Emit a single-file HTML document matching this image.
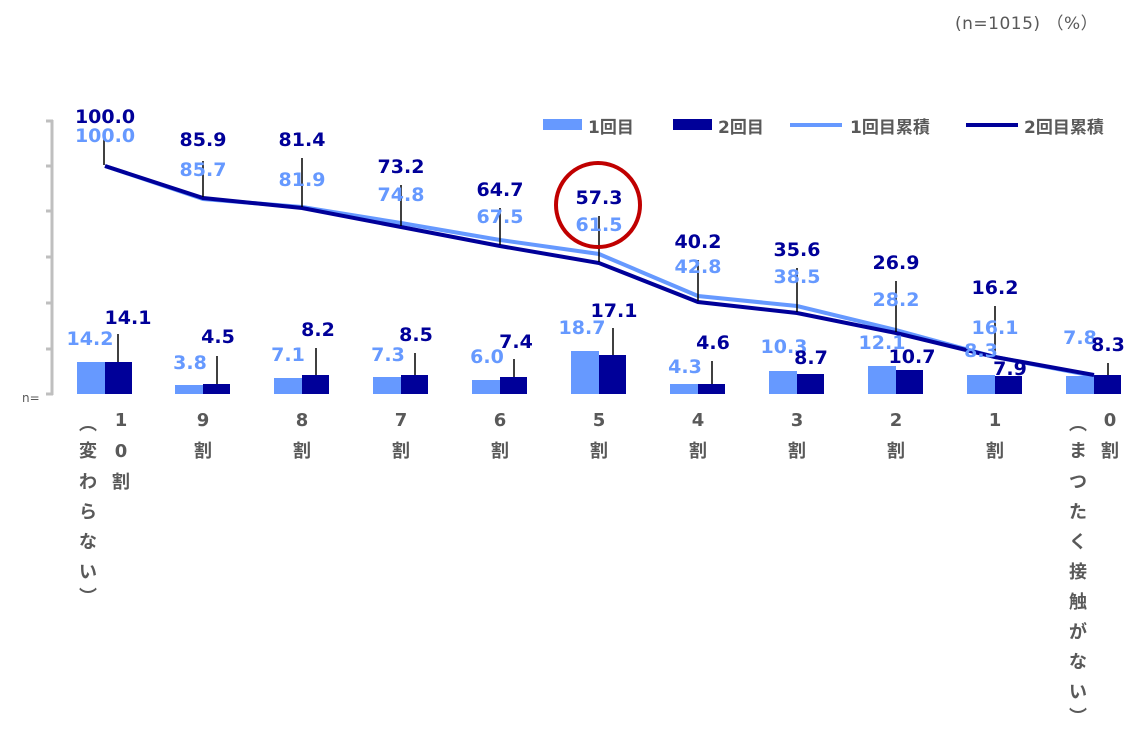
<!DOCTYPE html>
<html><head><meta charset="utf-8"><style>
html,body{margin:0;padding:0;background:#fff;}
svg{display:block;}
text{font-family:"DejaVu Sans","Noto Sans CJK JP",sans-serif;}
.n{font-size:19px;font-weight:bold;text-anchor:middle;}
.d{fill:#000099;}
.l{fill:#6699ff;}
.c{font-size:18px;font-weight:bold;fill:#595959;text-anchor:middle;}
</style></head><body>
<svg width="1148" height="749" viewBox="0 0 1148 749">
<text x="955" y="29" font-size="17" fill="#595959" letter-spacing="0.5">(n=1015) （%）</text>
<text x="22" y="402" font-size="12" fill="#595959">n=</text>
<g stroke="#bfbfbf" stroke-width="3" fill="none">
<line x1="52" y1="120" x2="52" y2="395"/>
<line x1="46" y1="121" x2="53" y2="121"/><line x1="46" y1="166" x2="53" y2="166"/>
<line x1="46" y1="211" x2="53" y2="211"/><line x1="46" y1="257" x2="53" y2="257"/>
<line x1="46" y1="303" x2="53" y2="303"/><line x1="46" y1="349" x2="53" y2="349"/>
<line x1="46" y1="394" x2="53" y2="394"/>
</g>
<rect x="543" y="119" width="39" height="11" fill="#6699ff"/>
<text x="588" y="133" font-size="17" font-weight="bold" fill="#595959">1回目</text>
<rect x="673" y="119" width="39" height="11" fill="#000099"/>
<text x="718" y="133" font-size="17" font-weight="bold" fill="#595959">2回目</text>
<line x1="790" y1="125" x2="842" y2="125" stroke="#6699ff" stroke-width="4"/>
<text x="850" y="133" font-size="17" font-weight="bold" fill="#595959">1回目累積</text>
<line x1="966" y1="125" x2="1018" y2="125" stroke="#000099" stroke-width="4"/>
<text x="1024" y="133" font-size="17" font-weight="bold" fill="#595959">2回目累積</text>
<g>
<rect x="77" y="362" width="28" height="32" fill="#6699ff"/><rect x="105" y="362" width="27" height="32" fill="#000099"/>
<rect x="175" y="385" width="28" height="9" fill="#6699ff"/><rect x="203" y="384" width="27" height="10" fill="#000099"/>
<rect x="274" y="378" width="28" height="16" fill="#6699ff"/><rect x="302" y="375" width="27" height="19" fill="#000099"/>
<rect x="373" y="377" width="28" height="17" fill="#6699ff"/><rect x="401" y="375" width="27" height="19" fill="#000099"/>
<rect x="472" y="380" width="28" height="14" fill="#6699ff"/><rect x="500" y="377" width="27" height="17" fill="#000099"/>
<rect x="571" y="351" width="28" height="43" fill="#6699ff"/><rect x="599" y="355" width="27" height="39" fill="#000099"/>
<rect x="670" y="384" width="28" height="10" fill="#6699ff"/><rect x="698" y="384" width="27" height="10" fill="#000099"/>
<rect x="769" y="371" width="28" height="23" fill="#6699ff"/><rect x="797" y="374" width="27" height="20" fill="#000099"/>
<rect x="868" y="366" width="28" height="28" fill="#6699ff"/><rect x="896" y="370" width="27" height="24" fill="#000099"/>
<rect x="967" y="375" width="28" height="19" fill="#6699ff"/><rect x="995" y="376" width="27" height="18" fill="#000099"/>
<rect x="1066" y="376" width="28" height="18" fill="#6699ff"/><rect x="1094" y="375" width="27" height="19" fill="#000099"/>
</g>
<polyline fill="none" stroke="#6699ff" stroke-width="4" points="105,166 203,199 302,207 401,223 500,240 599,254 698,296 797,306 896,330 995,357 1094,376"/>
<polyline fill="none" stroke="#000099" stroke-width="4" points="105,166 203,198 302,208 401,227 500,246 599,263 698,302 797,313 896,333 995,357 1094,375"/>
<g stroke="#000" stroke-width="1.5">
<line x1="104" y1="135" x2="104" y2="165"/>
<line x1="203" y1="161" x2="203" y2="197"/>
<line x1="302" y1="158" x2="302" y2="207"/>
<line x1="401" y1="185" x2="401" y2="226"/>
<line x1="500" y1="208" x2="500" y2="245"/>
<line x1="599" y1="216" x2="599" y2="262"/>
<line x1="698" y1="260" x2="698" y2="301"/>
<line x1="797" y1="268" x2="797" y2="312"/>
<line x1="896" y1="281" x2="896" y2="332"/>
<line x1="995" y1="306" x2="995" y2="356"/>
<line x1="118" y1="334" x2="118" y2="362"/>
<line x1="217" y1="356" x2="217" y2="384"/>
<line x1="316" y1="348" x2="316" y2="375"/>
<line x1="415" y1="353" x2="415" y2="375"/>
<line x1="514" y1="359" x2="514" y2="377"/>
<line x1="613" y1="328" x2="613" y2="355"/>
<line x1="712" y1="361" x2="712" y2="384"/>
<line x1="1108" y1="363" x2="1108" y2="375"/>
</g>
<circle cx="598" cy="205" r="42" fill="none" stroke="#c00000" stroke-width="4"/>
<g class="n d">
<text x="105" y="123">100.0</text><text x="203" y="146">85.9</text><text x="302" y="146">81.4</text>
<text x="401" y="173">73.2</text><text x="500" y="196">64.7</text><text x="599" y="204">57.3</text>
<text x="698" y="248">40.2</text><text x="797" y="256">35.6</text><text x="896" y="269">26.9</text>
<text x="995" y="294">16.2</text>
</g>
<g class="n l">
<text x="105" y="142">100.0</text><text x="203" y="176">85.7</text><text x="302" y="186">81.9</text>
<text x="401" y="201">74.8</text><text x="500" y="223">67.5</text><text x="599" y="231">61.5</text>
<text x="698" y="273">42.8</text><text x="797" y="283">38.5</text><text x="896" y="306">28.2</text>
<text x="995" y="334">16.1</text>
</g>
<g class="n l">
<text x="90" y="345">14.2</text><text x="190" y="369">3.8</text><text x="288" y="361">7.1</text>
<text x="388" y="361">7.3</text><text x="487" y="363">6.0</text><text x="582" y="334">18.7</text>
<text x="685" y="373">4.3</text><text x="784" y="353">10.3</text><text x="882" y="349">12.1</text>
<text x="981" y="357">8.3</text><text x="1080" y="344">7.8</text>
</g>
<g class="n d">
<text x="128" y="324">14.1</text><text x="218" y="343">4.5</text><text x="318" y="336">8.2</text>
<text x="416" y="341">8.5</text><text x="516" y="348">7.4</text><text x="614" y="317">17.1</text>
<text x="713" y="349">4.6</text><text x="811" y="364">8.7</text><text x="912" y="363">10.7</text>
<text x="1010" y="375">7.9</text><text x="1108" y="351">8.3</text>
</g>
<g class="c">
<text x="121" y="426">1</text><text x="121" y="457">0</text><text x="121" y="488">割</text>
<text x="88" y="430">︵</text><text x="88" y="457">変</text><text x="88" y="488">わ</text><text x="88" y="518">ら</text><text x="88" y="548">な</text><text x="88" y="578">い</text><text x="88" y="603">︶</text>
<text x="203" y="426">9</text><text x="203" y="457">割</text>
<text x="302" y="426">8</text><text x="302" y="457">割</text>
<text x="401" y="426">7</text><text x="401" y="457">割</text>
<text x="500" y="426">6</text><text x="500" y="457">割</text>
<text x="599" y="426">5</text><text x="599" y="457">割</text>
<text x="698" y="426">4</text><text x="698" y="457">割</text>
<text x="797" y="426">3</text><text x="797" y="457">割</text>
<text x="896" y="426">2</text><text x="896" y="457">割</text>
<text x="995" y="426">1</text><text x="995" y="457">割</text>
<text x="1110" y="426">0</text><text x="1110" y="457">割</text>
<text x="1078" y="430">︵</text><text x="1078" y="457">ま</text><text x="1078" y="488">つ</text><text x="1078" y="518">た</text><text x="1078" y="548">く</text><text x="1078" y="578">接</text><text x="1078" y="608">触</text><text x="1078" y="638">が</text><text x="1078" y="668">な</text><text x="1078" y="698">い</text><text x="1078" y="723">︶</text>
</g>
</svg>
</body></html>
